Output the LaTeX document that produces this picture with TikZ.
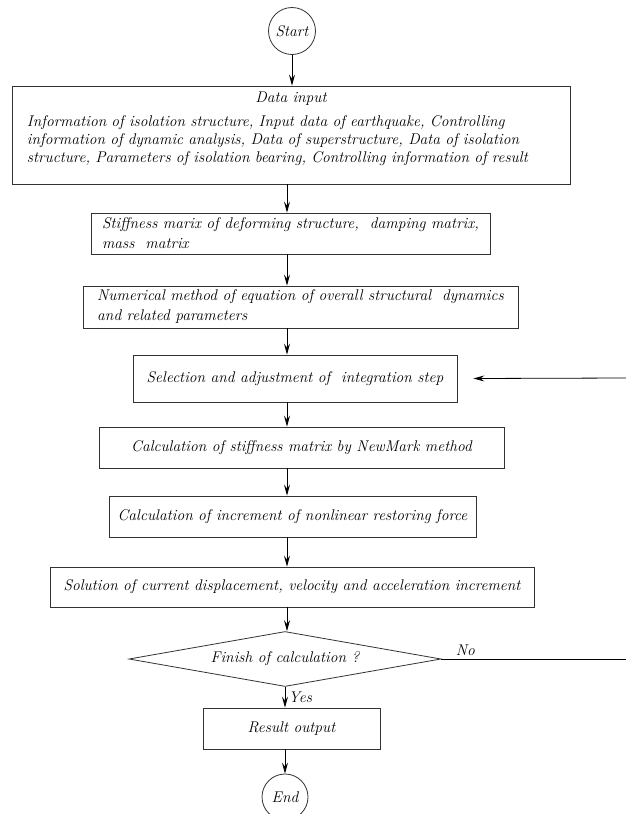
\documentclass[tikz,border=0pt]{standalone}
\usepackage{tikz}
\usetikzlibrary{shapes.geometric,arrows.meta}

\begin{document}
\begin{tikzpicture}[x=1pt, y=-1pt, >={Stealth[length=11pt,width=6pt,inset=4pt]},
    every node/.style={font=\itshape\fontsize{15.5}{18}\selectfont},
    box/.style={rectangle, draw=black!80, line width=0.8pt, inner sep=4pt},
    term/.style={circle, draw=black!80, line width=0.8pt, inner sep=0pt}]
    \useasboundingbox (0,0) rectangle (626,814);

    \node (start) [term, minimum size=47pt] at (292,31) {Start};
    \node (input) [box, minimum height=98pt, text width=528pt, inner xsep=15pt, align=left] at (291,135)
        {\makebox[528pt][c]{Data input}\\[6pt]Information of isolation structure, Input data of earthquake, Controlling\\information of dynamic analysis, Data of superstructure, Data of isolation\\structure, Parameters of isolation bearing, Controlling information of result\\[-2pt]\mbox{}};
    \node (stiff) [box, minimum width=399pt, minimum height=41pt, align=left] at (290.5,233.5)
        {Stiffness marix of deforming structure,\ \ damping matrix,\\[2pt]mass\ \ matrix};
    \node (num) [box, minimum width=435pt, minimum height=42pt, align=left] at (300.5,307)
        {Numerical method of equation of overall structural\ \ dynamics\\[2pt]and related parameters};
    \node (sel) [box, minimum width=324pt, minimum height=47pt] at (295,378.5)
        {Selection and adjustment of\ \ integration step};
    \node (calc) [box, minimum width=405pt, minimum height=41pt] at (301.5,447.5)
        {Calculation of stiffness matrix by NewMark method};
    \node (inc) [box, minimum width=367pt, minimum height=41pt] at (292.5,516.5)
        {Calculation of increment of nonlinear restoring force};
    \node (sol) [box, minimum width=484pt, minimum height=40pt] at (292,587)
        {Solution of current displacement, velocity and acceleration increment};
    \node (check) [diamond, draw=black!80, line width=0.8pt, aspect=5.6, inner sep=0pt, minimum width=312pt, minimum height=55pt] at (285,659)
        {Finish of calculation ?};
    \node (res) [box, minimum width=177pt, minimum height=41pt] at (291.5,728.5) {Result output};
    \node (end) [term, minimum size=46pt] at (285,797) {End};

    \coordinate (spine) at (287,0);
    \coordinate (noend) at (626,659);
    \coordinate (back) at (626,378);

    \draw[->, line width=0.8pt] (start) -- (start |- input.north);
    \foreach \a/\b in {input/stiff, stiff/num, num/sel, sel/calc, calc/inc, inc/sol, sol/check}
        \draw[->, line width=0.8pt] (\a.south -| spine) -- (\b.north -| spine);
    \draw[->, line width=0.8pt] (check.south) -- (check.south |- res.north) node[midway, right] {Yes};
    \draw[->, line width=0.8pt] (res.south -| end) -- (end.north);

    \draw[line width=0.8pt] (check.east) -- (noend) node[pos=0.13, above] {No};
    \draw[->, line width=0.8pt] (back) -- ([xshift=16pt]sel.east);
\end{tikzpicture}
\end{document}
